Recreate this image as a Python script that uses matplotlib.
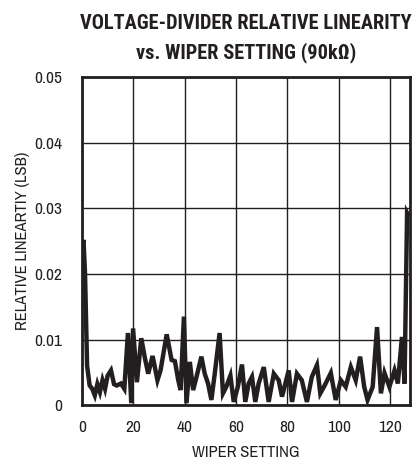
import matplotlib
matplotlib.use("Agg")
import matplotlib.pyplot as plt

wiper = [0, 0.6, 1.2, 2, 3, 4, 5, 6, 7, 8, 9, 10, 11.3, 12.5, 13.5, 15.2,
         16.5, 17.9, 19.2, 19.9, 21.4, 23.1, 24.5, 25.8, 27.5, 29.4, 30.6,
         33, 34.9, 36.2, 37.5, 38.4, 39.7, 40.7, 42, 43.3, 44.6, 46.5, 47.8,
         49.1, 50.4, 51.7, 53.6, 54.9, 56.2, 57.8, 59.1, 60.7, 62.3, 63.6,
         64.9, 66.2, 67.5, 68.8, 70.8, 72.7, 74.7, 76.6, 77.9, 80.5, 81.8,
         83.7, 85.6, 87.6, 89.5, 91.5, 92.8, 94.5, 96.9, 98.8, 100.8, 102.7,
         104.7, 106.6, 108.3, 109.9, 111.2, 113.2, 114.9, 116.4, 117.8,
         119.7, 121.7, 123, 124.6, 125.6, 126.6, 127]
linearity = [0.0240, 0.0252, 0.0200, 0.0060, 0.0030, 0.0025, 0.0015, 0.0032,
             0.0020, 0.0038, 0.0025, 0.0045, 0.0053, 0.0032, 0.0030, 0.0033,
             0.0025, 0.0110, 0.0003, 0.0117, 0.0035, 0.0102, 0.0072, 0.0048,
             0.0075, 0.0038, 0.0053, 0.0108, 0.0069, 0.0067, 0.0038, 0.0023,
             0.0135, 0.0003, 0.0066, 0.0023, 0.0043, 0.0074, 0.0048, 0.0033,
             0.0008, 0.0048, 0.0110, 0.0018, 0.0028, 0.0045, 0.0005, 0.0028,
             0.0062, 0.0005, 0.0033, 0.0043, 0.0005, 0.0033, 0.0058, 0.0005,
             0.0048, 0.0038, 0.0013, 0.0053, 0.0005, 0.0048, 0.0038, 0.0005,
             0.0043, 0.0061, 0.0018, 0.0030, 0.0049, 0.0008, 0.0038, 0.0028,
             0.0058, 0.0038, 0.0074, 0.0028, 0.0008, 0.0028, 0.0119, 0.0018,
             0.0049, 0.0028, 0.0053, 0.0033, 0.0104, 0.0033, 0.0293, 0.0290]

xticks = [0, 20, 40, 60, 80, 100, 120]
yticks = [0, 0.01, 0.02, 0.03, 0.04, 0.05]
ytick_labels = ['0', '0.01', '0.02', '0.03', '0.04', '0.05']

# condensed faces to get close to the datasheet look
body_fam = ['Archivo Narrow', 'Liberation Sans Narrow', 'Barlow Condensed', 'DejaVu Sans']
title_fam = ['Roboto Condensed', 'Barlow Condensed', 'Liberation Sans Narrow', 'DejaVu Sans']
plt.rcParams['font.family'] = body_fam
ink = '#231f20'

fig = plt.figure(figsize=(4.16, 4.62), dpi=100)
ax = fig.add_axes([0.197, 0.123, 0.789, 0.710])

ax.plot(wiper, linearity, color=ink, lw=3.2, solid_joinstyle='miter')

ax.set_xlim(0, 127.8)
ax.set_ylim(0, 0.05)
ax.set_xticks(xticks)
ax.set_yticks(yticks)
ax.set_yticklabels(ytick_labels)
ax.tick_params(length=0, labelsize=12.5, colors=ink)
ax.tick_params(axis='x', pad=11)
ax.tick_params(axis='y', pad=14)
ax.grid(True, color=ink, lw=1.0)
for s in ax.spines.values():
    s.set_linewidth(2.0)
    s.set_color(ink)

ax.set_xlabel('WIPER SETTING', fontsize=12, color=ink, labelpad=7)
ax.set_ylabel('RELATIVE LINEARTIY (LSB)', fontsize=12, color=ink, labelpad=3)

fig.text(0.592, 0.938, 'VOLTAGE-DIVIDER RELATIVE LINEARITY', ha='center',
         fontsize=14.7, fontweight='bold', color=ink, family=title_fam)
fig.text(0.592, 0.873, 'vs. WIPER SETTING (90kΩ)', ha='center',
         fontsize=14.7, fontweight='bold', color=ink, family=title_fam)

fig.savefig('out.png', dpi=100)
